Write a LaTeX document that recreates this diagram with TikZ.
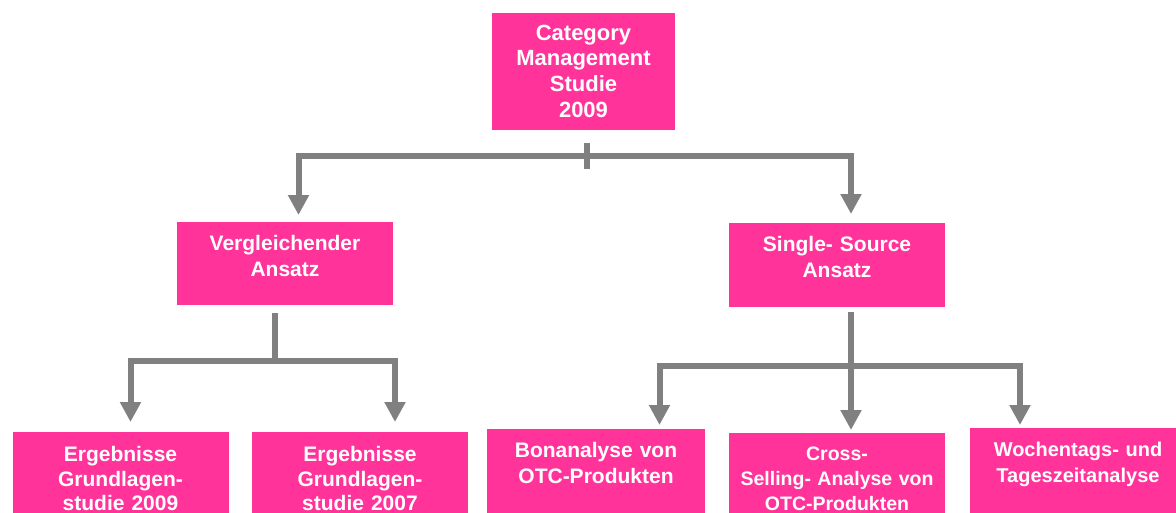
\documentclass[tikz,border=0pt]{standalone}
\usepackage{fontspec}
\setmainfont{Liberation Sans}
\usetikzlibrary{arrows.meta,positioning}
\definecolor{cmpink}{RGB}{255,51,153}
\definecolor{cmgray}{RGB}{128,128,128}

\tikzset{
    box/.style={fill=cmpink, text=white, font=\bfseries\fontsize{21}{26}\selectfont,
        align=center, anchor=north, inner xsep=0pt, inner ysep=0pt,
        text width=216pt, text height=28pt},
    bar/.style={draw=cmgray, line width=6pt},
    arr/.style={bar, -{Triangle[width=20pt,length=20pt]}},
}

\begin{document}
\begin{tikzpicture}[x=1pt,y=-1pt]
    \useasboundingbox (0,0) rectangle (1176,512);
    \clip (0,0) rectangle (1176,512);

    % Study
    \node[box, text width=183pt, text height=27pt, text depth=90pt,
        font=\bfseries\fontsize{22}{25.7}\selectfont] (studie) at (583.5,13)
        {Category\\Management\\Studie\\2009};

    % Approaches
    \node[box, text depth=55pt] (verg) at (285,222) {Vergleichender\\Ansatz};
    \node[box, text depth=56pt] (single) at (837,223) {Single- Source\\Ansatz};

    % Results
    \node[box, text height=29.5pt, text depth=70pt,
        font=\bfseries\fontsize{21}{24.5}\selectfont] (erg1) at (120.5,432)
        {Ergebnisse\\Grundlagen-\\studie 2009};
    \node[box, text height=29.5pt, text depth=70pt,
        font=\bfseries\fontsize{21}{24.5}\selectfont] (erg2) at (360,432)
        {Ergebnisse\\Grundlagen-\\studie 2007};
    \node[box, text width=218pt, text depth=62pt] (bon) at (596,429) {Bonanalyse von\\OTC-Produkten};
    \node[box, text height=27pt, text depth=60pt,
        font=\bfseries\fontsize{19.5}{25}\selectfont] (cross) at (837,433)
        {Cross-\\Selling- Analyse von\\OTC-Produkten};
    \node[box, text height=28.5pt, text depth=62pt,
        font=\bfseries\fontsize{20}{26}\selectfont] (woch) at (1078,428)
        {Wochentags- und\\Tageszeitanalyse};

    % Top split
    \coordinate (split) at (587,156);
    \draw[bar] ([yshift=13pt]split) -- ([yshift=-13pt]split);
    \draw[arr] (split) -| ([xshift=13.5pt,yshift=7pt]verg.north);
    \draw[arr] (split) -| ([xshift=14pt,yshift=9pt]single.north);

    % Left split
    \coordinate (lsplit) at (275,361);
    \draw[bar] ([xshift=-10pt,yshift=-8pt]verg.south) -- (lsplit);
    \draw[arr] (lsplit) -| ([xshift=10pt,yshift=10pt]erg1.north);
    \draw[arr] (lsplit) -| ([xshift=35pt,yshift=10pt]erg2.north);

    % Right split
    \coordinate (rsplit) at (851,365.5);
    \draw[arr] ([xshift=14pt,yshift=-5pt]single.south) -- ([xshift=14pt,yshift=3pt]cross.north);
    \draw[arr] (rsplit) -| ([xshift=63.5pt,yshift=4pt]bon.north);
    \draw[arr] (rsplit) -| ([xshift=-58pt,yshift=3pt]woch.north);
\end{tikzpicture}
\end{document}
